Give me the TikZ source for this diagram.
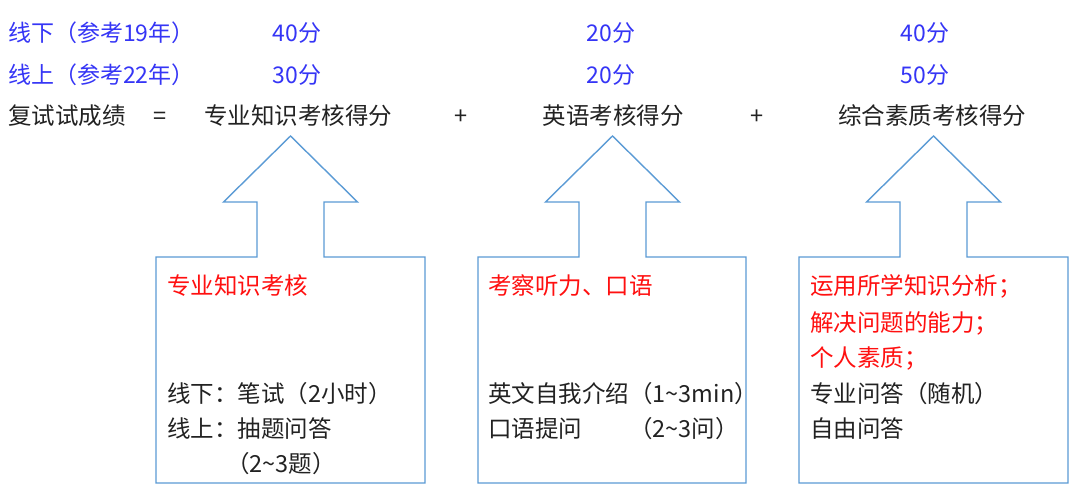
\documentclass[tikz,border=0pt]{standalone}
\usepackage{fontspec}
\setmainfont{Noto Sans CJK SC}
\definecolor{lineblue}{HTML}{5B9BD5}
\definecolor{txtblue}{HTML}{3535F6}
\definecolor{txtred}{HTML}{FF1010}
\definecolor{txtblack}{HTML}{222222}
\begin{document}
\begin{tikzpicture}[x=1pt,y=-1pt,
  hdr/.style={inner sep=0pt,anchor=base,text=txtblue,font=\fontsize{23}{27}\selectfont},
  hdrw/.style={hdr,anchor=base west},
  eq/.style={inner sep=0pt,anchor=base,text=txtblack,font=\fontsize{23.5}{28}\selectfont},
  eqw/.style={eq,anchor=base west},
  red/.style={eqw,text=txtred},
  callout/.style={draw=lineblue,line width=1.4pt,line join=miter}]
\useasboundingbox[fill=white] (0,0) rectangle (1080,500);

% header rows
\node[hdrw] (r1) at (8,42) {线下（参考19年）};
\node[hdr] (r1a) at (297,42) {40分};
\node[hdr] (r1b) at (611,42) {20分};
\node[hdr] (r1c) at (925,42) {40分};
\node[hdrw] (r2) at (8,84) {线上（参考22年）};
\node[hdr] (r2a) at (297,84) {30分};
\node[hdr] (r2b) at (611,84) {20分};
\node[hdr] (r2c) at (925,84) {50分};

% formula row
\node[eqw] (fs) at (8,125) {复试试成绩};
\node[eq] (eqs) at (160,125) {=};
\node[eq] (s1) at (298,125) {专业知识考核得分};
\node[eq] (p1) at (461,125) {+};
\node[eq] (s2) at (613,125) {英语考核得分};
\node[eq] (p2) at (757,125) {+};
\node[eq] (s3) at (932,125) {综合素质考核得分};

% callout arrows
\foreach \l/\r/\c in {156/425/290.5, 478/746/612.5, 799/1068/933.5}{
  \draw[callout] (\l,483) -- (\l,257) -- ({\c-33.5},257) -- ({\c-33.5},202)
    -- ({\c-67},202) -- (\c,136) -- ({\c+67},202) -- ({\c+33.5},202)
    -- ({\c+33.5},257) -- (\r,257) -- (\r,483) -- cycle;
}

% box 1
\node[red] (b1t) at (167,294) {专业知识考核};
\node[eqw] (b1a) at (167,402) {线下：笔试（2小时）};
\node[eqw] (b1b) at (167,437) {线上：抽题问答};
\node[eqw] (b1c) at (226,472) {（2\textasciitilde3题）};

% box 2
\node[red] (b2t) at (488,294) {考察听力、口语};
\node[eqw] (b2a) at (488,402) {英文自我介绍（1\textasciitilde3min）};
\node[eqw] (b2b) at (488,437) {口语提问};
\node[eqw] (b2c) at (629,437) {（2\textasciitilde3问）};

% box 3
\node[red] (b3a) at (810,294) {运用所学知识分析；};
\node[red] (b3b) at (810,331) {解决问题的能力；};
\node[red] (b3c) at (810,366) {个人素质；};
\node[eqw] (b3d) at (810,402) {专业问答（随机）};
\node[eqw] (b3e) at (810,437) {自由问答};
\end{tikzpicture}
\end{document}
